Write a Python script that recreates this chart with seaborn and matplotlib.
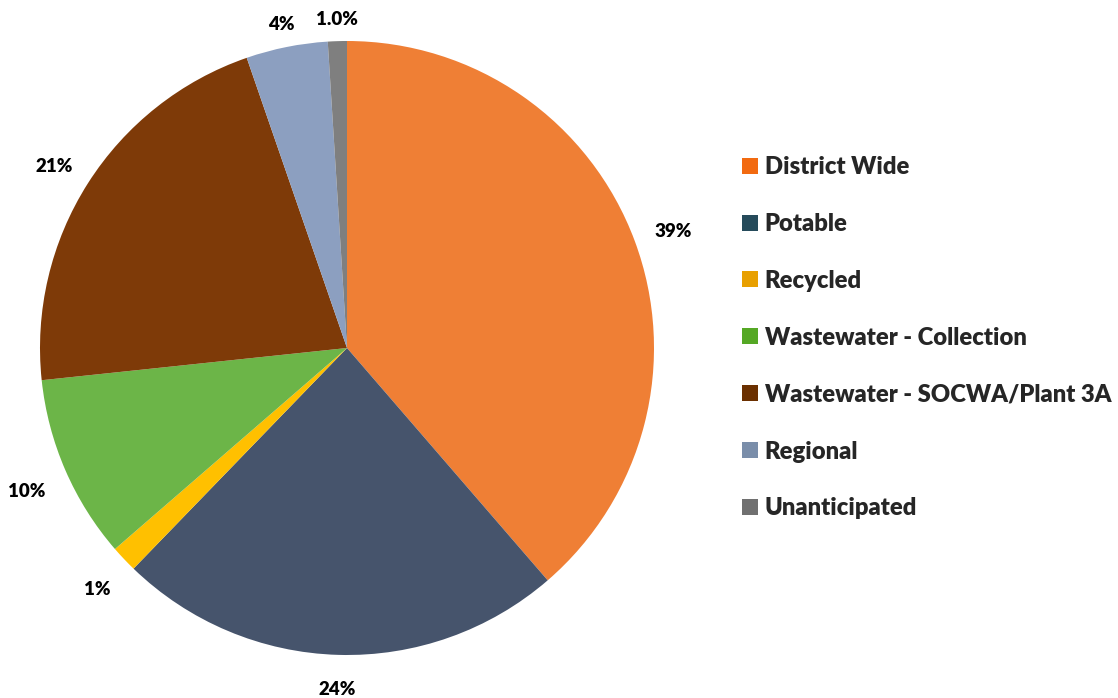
import matplotlib
matplotlib.use("Agg")
import numpy as np
import matplotlib.pyplot as plt
from matplotlib.patches import Patch
import seaborn as sns

# Budget share by category
categories = [
    "District Wide",
    "Potable",
    "Recycled",
    "Wastewater - Collection",
    "Wastewater - SOCWA/Plant 3A",
    "Regional",
    "Unanticipated",
]
shares = [38.7, 23.6, 1.4, 9.7, 21.4, 4.3, 1.0]
label_decimals = [0, 0, 0, 0, 0, 0, 1]

slice_colors = ["#EF7F35", "#46546C", "#FFC000", "#6CB548",
                "#7E3A08", "#8C9FC0", "#7F7F7F"]
legend_colors = ["#F26A10", "#264B5B", "#E8A000", "#55A825",
                 "#6B3000", "#7A8EAA", "#707070"]

sns.set_theme(style="white")
plt.rcParams["font.family"] = ["Lato", "DejaVu Sans"]

W, H = 1118, 698
fig = plt.figure(figsize=(W / 100, H / 100), dpi=100)
fig.patch.set_facecolor("white")

cx, cy, r = 347, 348, 307
ax = fig.add_axes([(cx - r) / W, (H - cy - r) / H, 2 * r / W, 2 * r / H])
ax.set_aspect("equal")

pct_iter = iter(label_decimals)


def fmt(p):
    d = next(pct_iter)
    return f"{p:.{d}f}%"


wedges, texts, autotexts = ax.pie(
    shares,
    colors=slice_colors,
    startangle=90,
    counterclock=False,
    radius=1.0,
    autopct=fmt,
    pctdistance=1.1,
    wedgeprops=dict(linewidth=0),
    textprops=dict(fontsize=13.5, fontweight="heavy", color="black"),
)
ax.set_xlim(-1, 1)
ax.set_ylim(-1, 1)
ax.axis("off")

# Push each percentage label just outside the rim, allowing for its box size
fig.canvas.draw()
renderer = fig.canvas.get_renderer()
gap = 22 / r
drop = 5 / r
for w, t in zip(wedges, autotexts):
    ang = np.deg2rad((w.theta1 + w.theta2) / 2)
    bb = t.get_window_extent(renderer)
    hw = bb.width / 2 / r
    hh = (7 if np.sin(ang) < 0 else 4) / r
    d = 1.0 + gap + abs(np.cos(ang)) * hw + abs(np.sin(ang)) * hh
    t.set_position((d * np.cos(ang), d * np.sin(ang) - drop))
    t.set_ha("center")
    t.set_va("center")

handles = [Patch(facecolor=c, edgecolor="none") for c in legend_colors]
fig.legend(
    handles, categories,
    loc="upper left",
    bbox_to_anchor=(742 / W, 1 - 156 / H),
    frameon=False,
    prop=dict(family=["Lato", "DejaVu Sans"], weight="heavy", size=17.1),
    handlelength=0.66, handleheight=0.66, handletextpad=0.3,
    labelspacing=1.47, borderpad=0, borderaxespad=0,
)

fig.savefig("out.png", dpi=100, facecolor="white")
